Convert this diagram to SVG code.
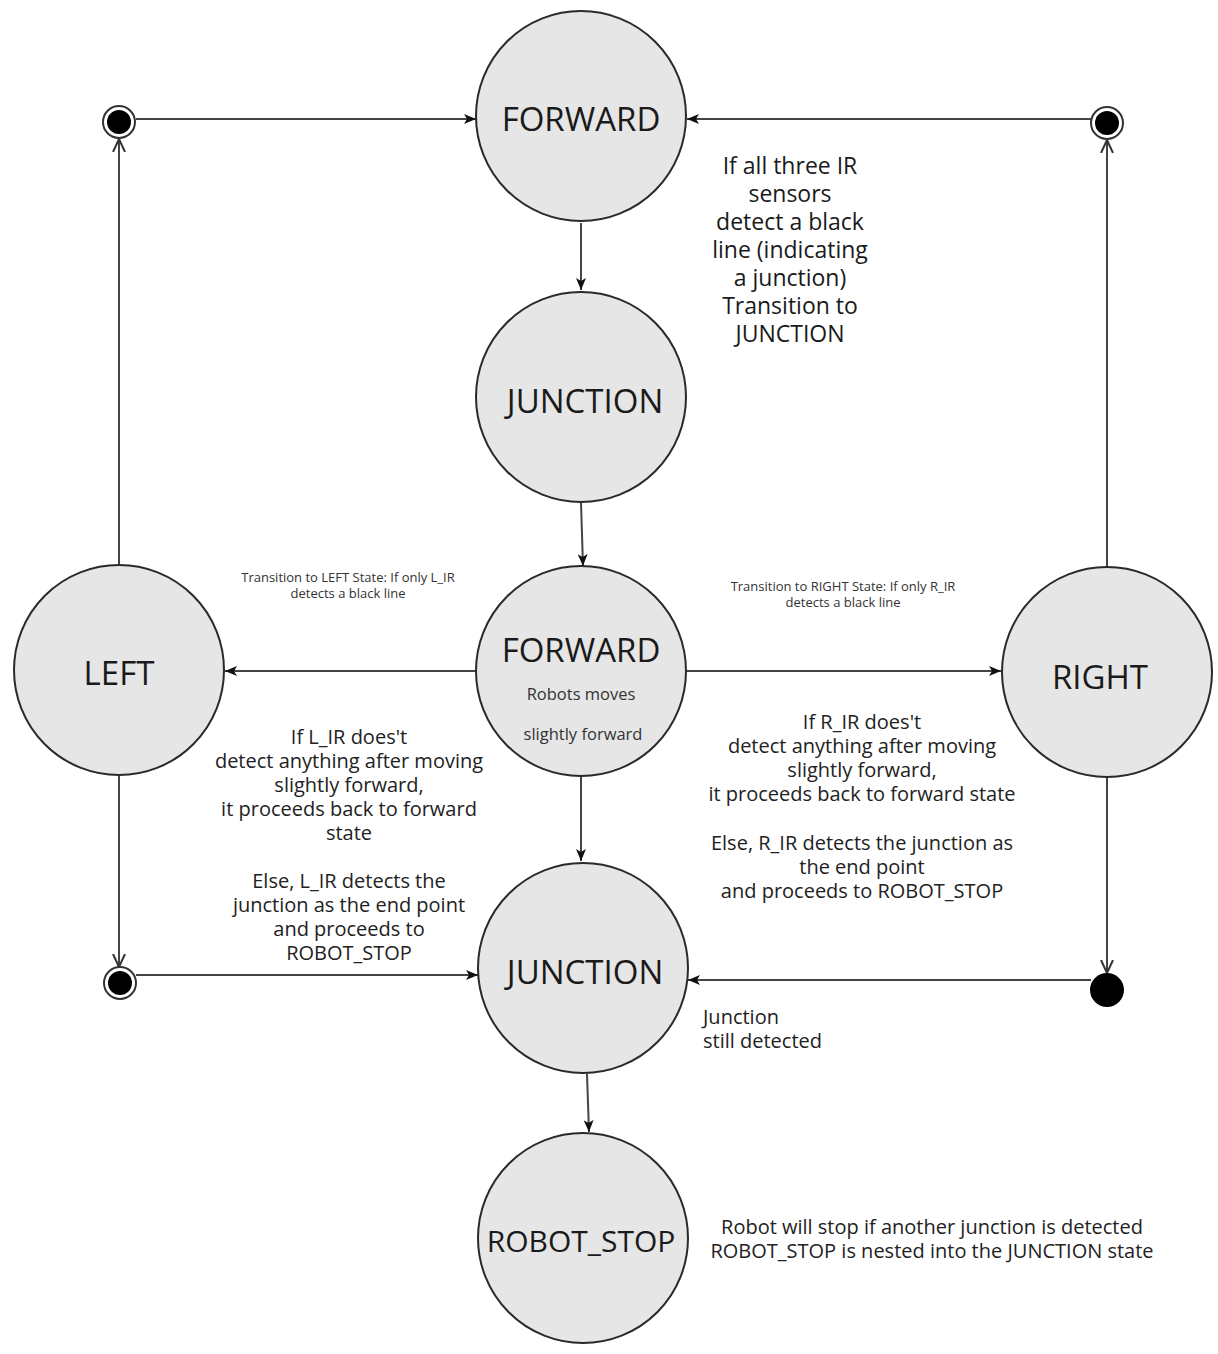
<svg xmlns="http://www.w3.org/2000/svg" width="1218" height="1354" viewBox="0 0 1218 1354">
<style>
.st{fill:#e6e6e6;stroke:#2a2a2a;stroke-width:2}
.t{font-family:"Open Sans","Noto Sans",sans-serif;fill:#1a1a1a;text-anchor:middle;dominant-baseline:central}
.big{font-size:33px}
.lbl{font-size:20px;fill:#222}
.sm{font-size:13px;fill:#333}
.c{fill:none;stroke:#444;stroke-width:2}
.cf{marker-end:url(#af)}
.co{marker-end:url(#ao)}
</style>
<defs>
<marker id="af" viewBox="0 0 12 10" refX="12" refY="5" markerWidth="12" markerHeight="10" markerUnits="userSpaceOnUse" orient="auto">
<path d="M0,0 L12,5 L0,10 L3,5 Z" fill="#111"/>
</marker>
<marker id="ao" viewBox="0 0 14 14" refX="13" refY="7" markerWidth="14" markerHeight="14" markerUnits="userSpaceOnUse" orient="auto">
<path d="M0,1 L13,7 L0,13" fill="none" stroke="#333" stroke-width="2"/>
</marker>
</defs>
<rect width="1218" height="1354" fill="#fff"/>
<g id="connectors">
<path class="c cf" d="M136,119 L476,119"/>
<path class="c cf" d="M1091,119 L687,119"/>
<path class="c cf" d="M581,223 L581,290"/>
<path class="c cf" d="M581,503 L583,566"/>
<path class="c cf" d="M476,671 L225,671"/>
<path class="c cf" d="M686,671 L1001,671"/>
<path class="c co" d="M119,565 L119,139"/>
<path class="c co" d="M1107,567 L1107,140"/>
<path class="c co" d="M119,776 L119,967"/>
<path class="c co" d="M1107,777 L1107,973"/>
<path class="c cf" d="M136,975 L478,975"/>
<path class="c cf" d="M1091,980 L688,980"/>
<path class="c cf" d="M581,777 L581,861"/>
<path class="c cf" d="M587,1074 L589,1132"/>
</g>
<g id="pseudo-tl"><circle cx="119" cy="122" r="16" fill="#fff" stroke="#333" stroke-width="2"/><circle cx="119" cy="122" r="12" fill="#000"/></g>
<g id="pseudo-tr"><circle cx="1107" cy="123" r="16" fill="#fff" stroke="#333" stroke-width="2"/><circle cx="1107" cy="123" r="12" fill="#000"/></g>
<g id="pseudo-bl"><circle cx="120" cy="983" r="16" fill="#fff" stroke="#333" stroke-width="2"/><circle cx="120" cy="983" r="12" fill="#000"/></g>
<g id="pseudo-br"><circle cx="1107" cy="990" r="17" fill="#000"/></g>
<g id="forward-top"><circle class="st" cx="581" cy="116" r="105"/><text class="t big" x="581" y="118">FORWARD</text></g>
<g id="junction-1"><circle class="st" cx="581" cy="397" r="105"/><text class="t big" x="585" y="400">JUNCTION</text></g>
<g id="forward-mid"><circle class="st" cx="581" cy="671" r="105"/><text class="t big" x="581" y="649">FORWARD</text><text class="t" style="font-size:16.5px;fill:#333" x="581" y="693">Robots moves</text><text class="t" style="font-size:16.5px;fill:#333" x="583" y="733">slightly forward</text></g>
<g id="left"><circle class="st" cx="119" cy="670" r="105"/><text class="t big" x="119" y="672">LEFT</text></g>
<g id="right"><circle class="st" cx="1107" cy="672" r="105"/><text class="t big" x="1100" y="676">RIGHT</text></g>
<g id="junction-2"><circle class="st" cx="583" cy="968" r="105"/><text class="t big" x="585" y="971">JUNCTION</text></g>
<g id="robot-stop"><circle class="st" cx="583" cy="1238" r="105"/><text class="t" style="font-size:30px" x="581" y="1240">ROBOT_STOP</text></g>
<g id="labels">
<text class="t" style="font-size:23px" x="790" y="165">If all three IR</text>
<text class="t" style="font-size:23px" x="790" y="193">sensors</text>
<text class="t" style="font-size:23px" x="790" y="221">detect a black</text>
<text class="t" style="font-size:23px" x="790" y="249">line (indicating</text>
<text class="t" style="font-size:23px" x="790" y="277">a junction)</text>
<text class="t" style="font-size:23px" x="790" y="305">Transition to</text>
<text class="t" style="font-size:23px" x="790" y="333">JUNCTION</text>
<text class="t sm" x="348" y="577">Transition to LEFT State: If only L_IR</text>
<text class="t sm" x="348" y="593">detects a black line</text>
<text class="t sm" x="843" y="586">Transition to RIGHT State: If only R_IR</text>
<text class="t sm" x="843" y="602">detects a black line</text>
<text class="t lbl" x="349" y="736">If L_IR does't</text>
<text class="t lbl" x="349" y="760">detect anything after moving</text>
<text class="t lbl" x="349" y="784">slightly forward,</text>
<text class="t lbl" x="349" y="808">it proceeds back to forward</text>
<text class="t lbl" x="349" y="832">state</text>
<text class="t lbl" x="349" y="880">Else, L_IR detects the</text>
<text class="t lbl" x="349" y="904">junction as the end point</text>
<text class="t lbl" x="349" y="928">and proceeds to</text>
<text class="t lbl" x="349" y="952">ROBOT_STOP</text>
<text class="t lbl" x="862" y="721">If R_IR does't</text>
<text class="t lbl" x="862" y="745">detect anything after moving</text>
<text class="t lbl" x="862" y="769">slightly forward,</text>
<text class="t lbl" x="862" y="793">it proceeds back to forward state</text>
<text class="t lbl" x="862" y="842">Else, R_IR detects the junction as</text>
<text class="t lbl" x="862" y="866">the end point</text>
<text class="t lbl" x="862" y="890">and proceeds to ROBOT_STOP</text>
<text class="t lbl" style="text-anchor:start" x="703" y="1016">Junction</text>
<text class="t lbl" style="text-anchor:start" x="703" y="1040">still detected</text>
<text class="t lbl" x="932" y="1226">Robot will stop if another junction is detected</text>
<text class="t lbl" x="932" y="1250">ROBOT_STOP is nested into the JUNCTION state</text>
</g>
</svg>
